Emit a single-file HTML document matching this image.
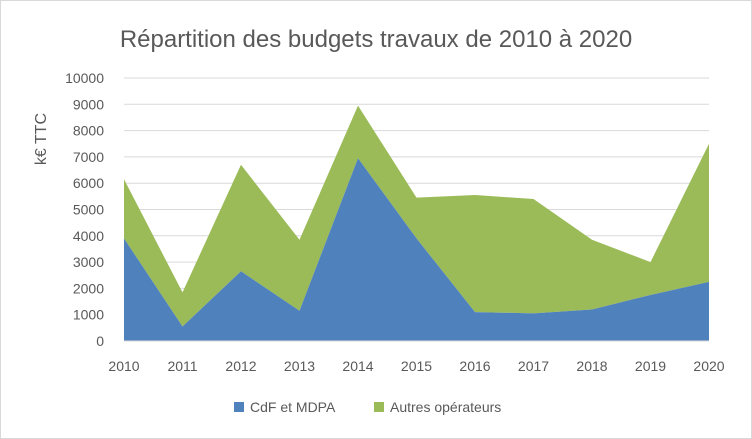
<!DOCTYPE html>
<html><head><meta charset="utf-8"><style>
body{margin:0;background:#fff;}
svg{display:block;font-family:"Liberation Sans",sans-serif;}
</style></head><body>
<svg id="c" width="752" height="439">
<rect x="0.5" y="0.5" width="751" height="438" fill="#fff" stroke="#d9d9d9"/>
<text x="376" y="47" text-anchor="middle" font-size="24" fill="#595959">Répartition des budgets travaux  de 2010 à 2020</text>
<text transform="translate(46,139) rotate(-90)" text-anchor="middle" font-size="16" fill="#595959">k€ TTC</text>
<g id="grid"></g><g id="areas"></g><g id="ticks"></g>
<g>
<rect x="234" y="402" width="10" height="10" fill="#4f81bd"/>
<text x="250" y="412" font-size="14" fill="#595959">CdF et MDPA</text>
<rect x="374" y="402" width="10" height="10" fill="#9bbb59"/>
<text x="390" y="412" font-size="14" fill="#595959">Autres opérateurs</text>
</g>
</svg>
<script>
const years=[2010,2011,2012,2013,2014,2015,2016,2017,2018,2019,2020];
const cdf=[3900,550,2650,1150,6950,3900,1100,1050,1200,1750,2250];
const autres=[2250,1300,4050,2700,2000,1550,4450,4350,2650,1250,5250];
const yTicks=[0,1000,2000,3000,4000,5000,6000,7000,8000,9000,10000];
const NS="http://www.w3.org/2000/svg";
const x0=124,x1=709,y0=341,y1=78;
const xs=i=>x0+(x1-x0)*i/(years.length-1);
const ys=v=>y0-(y0-y1)*v/10000;
const grid=document.getElementById('grid'),areas=document.getElementById('areas'),ticks=document.getElementById('ticks');
function mk(tag,attrs,parent){const e=document.createElementNS(NS,tag);for(const k in attrs)e.setAttribute(k,attrs[k]);parent.appendChild(e);return e;}
yTicks.forEach(t=>{
  const l=mk('line',{x1:x0,x2:x1,y1:ys(t),y2:ys(t),stroke:'#d9d9d9'},grid);
  
  
  const tx=mk('text',{x:104,y:ys(t)+5,'text-anchor':'end','font-size':14,fill:'#595959'},ticks);
  tx.textContent=t;
  
  
});
const tot=cdf.map((v,i)=>v+autres[i]);
const topPts=years.map((y,i)=>xs(i)+','+ys(tot[i])).join(' ');
const midPts=years.map((y,i)=>xs(i)+','+ys(cdf[i]));
const g=mk('polygon',{points:topPts+' '+midPts.slice().reverse().join(' '),fill:'#9bbb59'},areas);


const b=mk('polygon',{points:midPts.join(' ')+' '+x1+','+y0+' '+x0+','+y0,fill:'#4f81bd'},areas);


const ax=mk('line',{x1:x0,x2:x1,y1:y0,y2:y0,stroke:'#d9d9d9'},ticks);


years.forEach((y,i)=>{
  const tx=mk('text',{x:xs(i),y:371,'text-anchor':'middle','font-size':14,fill:'#595959'},ticks);
  tx.textContent=y;
  
  
});
</script>
</body></html>
